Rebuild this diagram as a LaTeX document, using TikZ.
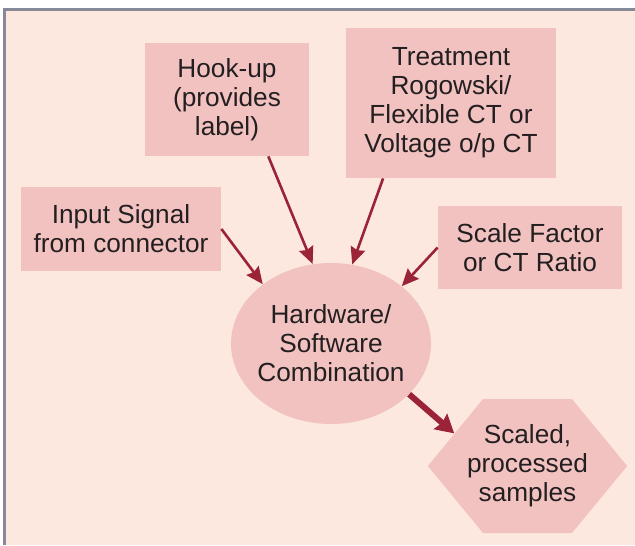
\documentclass[tikz,border=0pt]{standalone}
\usepackage{fontspec}
\setmainfont{Liberation Sans}
\usepackage{tikz}
\usetikzlibrary{arrows.meta,shapes.geometric,shapes.symbols}
\definecolor{bgpeach}{HTML}{FCE8DE}
\definecolor{boxpink}{HTML}{F2C2C1}
\definecolor{arrowred}{HTML}{9B2338}
\definecolor{framegray}{HTML}{868A98}
\definecolor{textgray}{HTML}{231F20}

\begin{document}
\begin{tikzpicture}[
  x=0.5pt, y=-0.5pt,
  box/.style={fill=boxpink, align=center, inner sep=2pt, text=textgray, font=\fontsize{13.1}{14.5}\selectfont},
  arrow/.style={-{Stealth[length=8.5pt, width=7.5pt, inset=1pt]}, line width=1.3pt, draw=arrowred, fill=arrowred},
  bigarrow/.style={-{Stealth[length=9pt, width=10pt, inset=1pt]}, line width=3pt, draw=arrowred, fill=arrowred}
]
\useasboundingbox (0,0) rectangle (635,545);
% panel with grey edge on top and left
\fill[framegray] (3,8) rectangle (635,545);
\fill[bgpeach] (6,11) rectangle (635,545);

\node[box, minimum width=82pt, minimum height=56.5pt] (hookup) at (227,99.5) {Hook-up\\(provides\\label)};
\node[box, minimum width=105pt, minimum height=75pt] (treat) at (451,103) {Treatment\\Rogowski/\\Flexible CT or\\Voltage o/p CT};
\node[box, minimum width=100pt, minimum height=42pt] (input) at (121,229) {Input Signal\\from connector};
\node[box, minimum width=92pt, minimum height=41.5pt] (ctratio) at (530,247.5) {Scale Factor\\or CT Ratio};
\node[box, ellipse, inner xsep=-7pt, minimum width=100pt, minimum height=80.5pt] (hw) at (331,343.5) {Hardware/\\Software\\Combination};
\node[box, signal, signal to=west and east, signal pointer angle=101, inner xsep=-8pt,
  minimum width=49.5pt, minimum height=67pt] (samples) at (527.5,466) {Scaled,\\processed\\samples};

\draw[arrow] (input.east) -- (hw.139.5);
\draw[arrow] (hookup.-54) -- (hw.103);
\draw[arrow] (treat.-132) -- (hw.75.5);
\draw[arrow] (ctratio.west) -- (hw.39);
\draw[bigarrow] (hw.-33) -- (samples.156);
\end{tikzpicture}
\end{document}
